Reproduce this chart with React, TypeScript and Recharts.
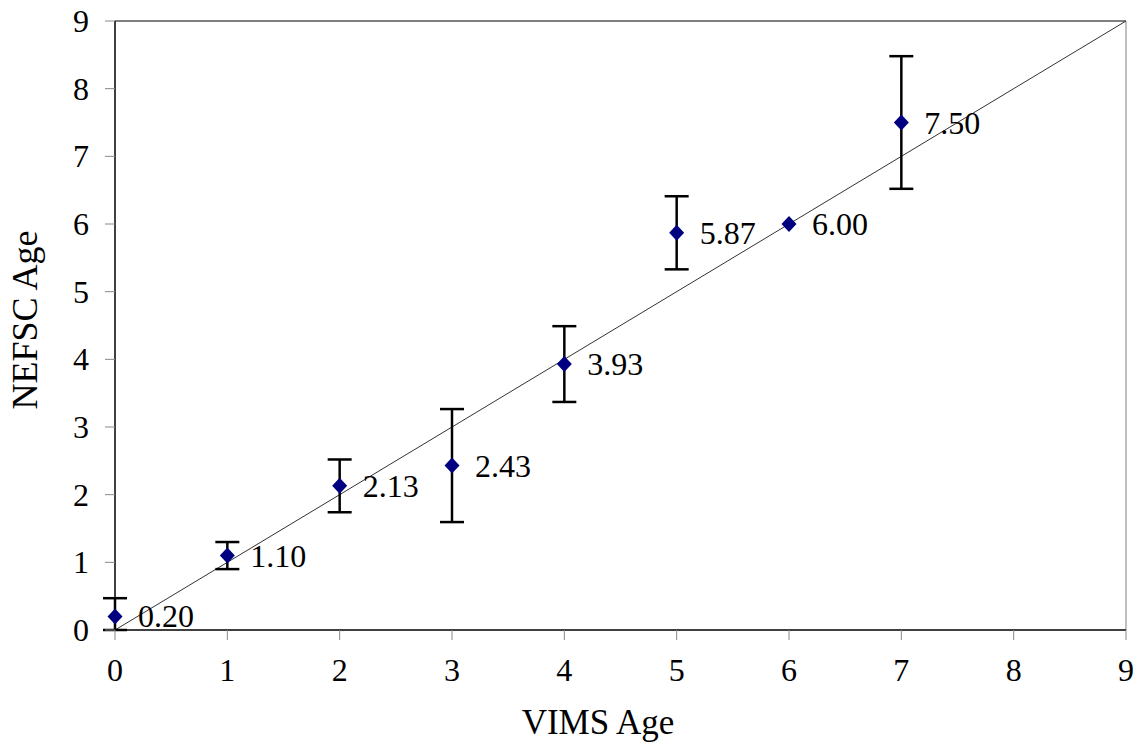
import React from 'react';
import {
  ScatterChart,
  Scatter,
  XAxis,
  YAxis,
  ErrorBar,
  LabelList,
  ReferenceLine,
} from 'recharts';

const vimsAge = [0, 1, 2, 3, 4, 5, 6, 7];
const nefscAge = [0.2, 1.1, 2.13, 2.43, 3.93, 5.87, 6.0, 7.5];
const errors: (number | number[] | null)[] = [[0.2, 0.27], 0.2, 0.39, 0.835, 0.56, 0.54, null, 0.98];
const ticks = [0, 1, 2, 3, 4, 5, 6, 7, 8, 9];

const data = vimsAge.map((x, i) => ({ x, y: nefscAge[i], err: errors[i] }));

const FONT = "'Liberation Serif', 'Times New Roman', serif";
const textStyle = { fontFamily: FONT };

const Diamond = (props: any) => {
  const { cx, cy } = props;
  return (
    <polygon
      points={`${cx},${cy - 8} ${cx + 7.5},${cy} ${cx},${cy + 8} ${cx - 7.5},${cy}`}
      fill="#000080"
    />
  );
};

const pointLabel = (props: any) => {
  const { x, y, width, height, value } = props;
  return (
    <text
      x={x + width / 2 + 23}
      y={y + height / 2 + 11}
      fontSize={32}
      style={textStyle}
      fill="#000"
    >
      {Number(value).toFixed(2)}
    </text>
  );
};

const XTick = (props: any) => {
  const { x, payload } = props;
  return (
    <text x={x} y={681} textAnchor="middle" fontSize={32} style={textStyle} fill="#000">
      {payload.value}
    </text>
  );
};

const YTick = (props: any) => {
  const { y, payload } = props;
  return (
    <text x={89} y={y + 11} textAnchor="end" fontSize={32} style={textStyle} fill="#000">
      {payload.value}
    </text>
  );
};

const App: React.FC = () => {
  return (
    <div style={{ position: 'absolute', left: 0, top: 0, background: '#fff' }}>
      <ScatterChart
        width={1137}
        height={746}
        margin={{ top: 21, right: 11, left: 0, bottom: 0 }}
      >
        <XAxis
          type="number"
          dataKey="x"
          domain={[0, 9]}
          ticks={ticks}
          height={116}
          tickSize={10}
          stroke="#000"
          strokeWidth={1.5}
          tickLine={{ stroke: '#888', strokeWidth: 1 }}
          tick={<XTick />}
          label={() => (
            <text x={598} y={734} textAnchor="middle" fontSize={35} style={textStyle} fill="#000">
              VIMS Age
            </text>
          )}
        />
        <YAxis
          type="number"
          dataKey="y"
          domain={[0, 9]}
          ticks={ticks}
          width={115}
          tickSize={10}
          stroke="#000"
          strokeWidth={1.5}
          tickLine={{ stroke: '#888', strokeWidth: 1 }}
          tick={<YTick />}
          label={() => (
            <text
              x={37}
              y={320}
              textAnchor="middle"
              transform="rotate(-90, 37, 320)"
              fontSize={36}
              style={textStyle}
              fill="#000"
            >
              NEFSC Age
            </text>
          )}
        />
        <ReferenceLine y={9} stroke="#555" strokeWidth={1.5} />
        <ReferenceLine x={9} stroke="#aaa" strokeWidth={1.5} />
        <ReferenceLine
          segment={[{ x: 0, y: 0 }, { x: 9, y: 9 }]}
          stroke="#333"
          strokeWidth={1}
        />
        <Scatter data={data} shape={<Diamond />} isAnimationActive={false}>
          <ErrorBar dataKey="err" direction="y" width={12} stroke="#000" strokeWidth={2.5} />
          <LabelList dataKey="y" content={pointLabel} />
        </Scatter>
      </ScatterChart>
    </div>
  );
};

export default App;
